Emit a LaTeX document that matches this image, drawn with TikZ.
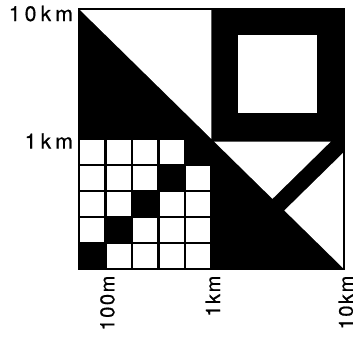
\documentclass[tikz,border=0pt]{standalone}
\usepackage{fontspec}
\setmainfont{TeX Gyre Heros}
\usepackage{tikz}
\usetikzlibrary{positioning}

\begin{document}
\begin{tikzpicture}[x=132.5pt,y=130pt,
  lab/.style={inner sep=0pt,font=\fontsize{20}{20}\selectfont},
  laby/.style={lab,anchor=east,font=\fontsize{21}{21}\selectfont\addfontfeature{LetterSpace=20,FakeBold=0.6}},
  labx/.style={lab,rotate=90,anchor=east,font=\fontsize{20}{20}\selectfont\addfontfeature{LetterSpace=8,FakeBold=0.6}},
  cadre/.style={draw=black,line width=1.5pt},
  case/.style={fill=white}]
  \useasboundingbox (-0.596,-0.531) rectangle (2.068,2.069);
  % fond noir
  \fill[black] (0,0) rectangle (2,2);
  % quart haut gauche : triangle blanc
  \fill[white] (0,2) -- (1,2) -- (1,1) -- cycle;
  % quart haut droit : carre blanc
  \fill[white] (1.2,1.2) rectangle (1.8,1.8);
  % quart bas droit : deux triangles blancs
  \fill[white] (1.02,0.98) -- (1.9,0.98) -- (1.46,0.54) -- cycle;
  \fill[white] (2,0.9) -- (2,0) -- (1.55,0.45) -- cycle;
  % quart bas gauche : grille 5x5, diagonale noire
  \foreach \i in {0,...,4}
    \foreach \j in {0,...,4} {
      \ifnum\i=\j\else
        \fill[case] ({0.2*\i+0.008},{0.2*\j+0.008}) rectangle ++(0.184,0.184);
      \fi
    }
  \draw[cadre] (0,0) rectangle (2,2);
  % echelles
  \node[laby] (dixkm) at (-0.045,1.965) {10km};
  \node[laby] (unkm) at (-0.045,0.985) {1km};
  \node[labx] (centm) at (0.215,-0.05) {100m};
  \node[labx] (unkmb) at (1.01,-0.05) {1km};
  \node[labx] (dixkmb) at (2.015,-0.05) {10km};
\end{tikzpicture}
\end{document}
